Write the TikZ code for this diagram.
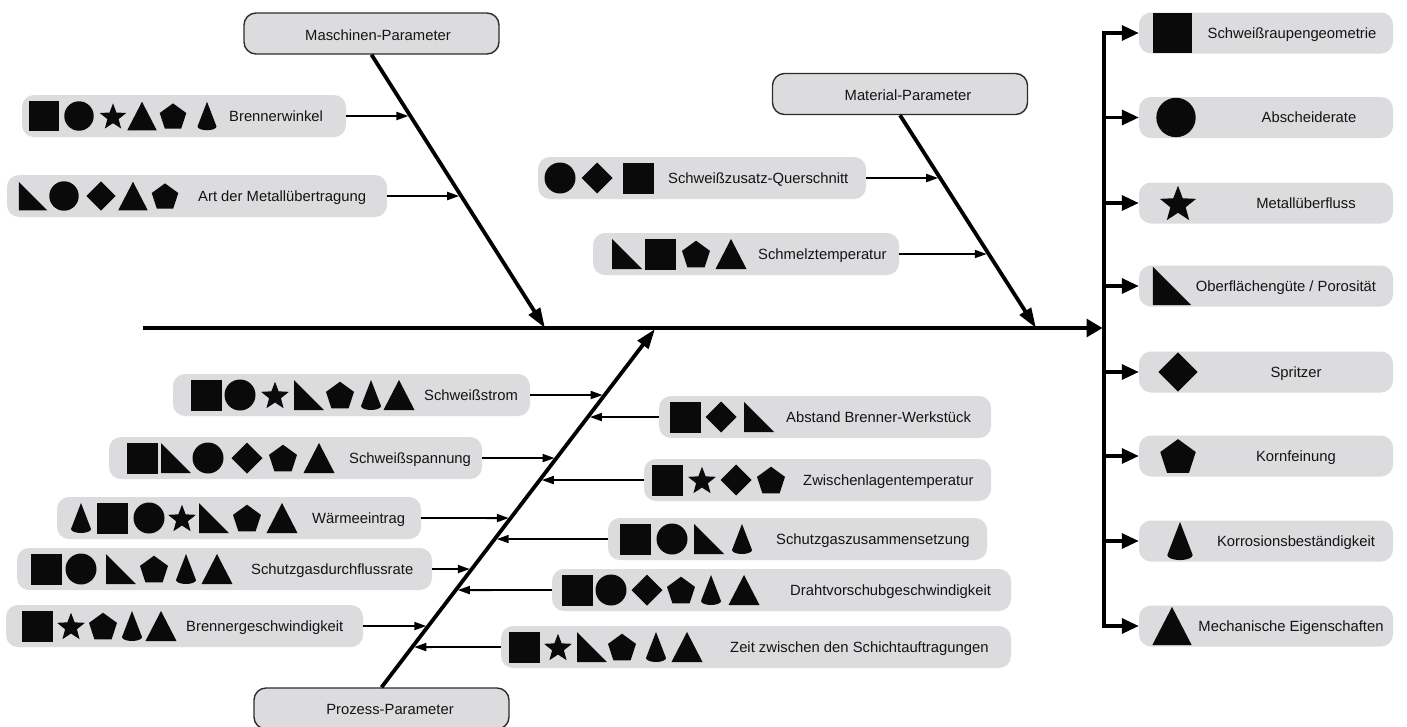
\documentclass[tikz,border=0pt]{standalone}
\usepackage{fontspec}
\setmainfont{Liberation Sans}
\usetikzlibrary{arrows.meta,calc}
\definecolor{boxgray}{RGB}{220,220,222}
\definecolor{catedge}{RGB}{45,45,45}
\definecolor{txtc}{RGB}{20,20,20}
\definecolor{symc}{RGB}{10,10,10}
\newcommand\symrow[3]{\foreach \s/\x in {#3}{\edef\symtmp{\noexpand\pic[scale=#1] at (\x,#2) {\s};}\symtmp}}
\tikzset{
  fbox/.style={fill=boxgray, rounded corners=12pt, inner sep=0pt, minimum height=42pt},
  catbx/.style={fill=boxgray, draw=catedge, line width=1.4pt, rounded corners=12pt, minimum width=255pt, minimum height=41pt, inner sep=0pt},
  lbl/.style={text=txtc, font=\fontsize{14.8}{17}\selectfont, inner sep=0pt, text height=10pt, text depth=0pt},
  bonearrow/.style={line width=3.8pt, -{Triangle[length=20pt,width=13pt]}},
  spinearrow/.style={line width=3.2pt, shorten >=1.5pt, -{Triangle[length=16pt,width=18pt]}},
  feedarrow/.style={line width=1.9pt, shorten >=2pt, -{Triangle[length=12pt,width=8pt]}},
  brancharrow/.style={line width=3.2pt, -{Triangle[length=17pt,width=15pt]}},
  barline/.style={line width=3.2pt, line cap=rect},
  symsq/.pic={\fill[symc] (-15.5,-15.5) rectangle (15.5,15.5);},
  symci/.pic={\fill[symc] (0,0) circle[radius=15.5];},
  symst/.pic={\fill[symc,shift={(0,1.35)}] (-90:14.6) \foreach \i in {0,...,4}{ -- ({-54+72*\i}:6.2) -- ({-18+72*\i}:14.6)} -- cycle;},
  sympe/.pic={\fill[symc,shift={(0,1.4)}] (-90:14.7) -- (-18:14.7) -- (54:14.7) -- (126:14.7) -- (198:14.7) -- cycle;},
  symtr/.pic={\fill[symc] (0,-15) -- (15.5,15) -- (-15.5,15) -- cycle;},
  symrt/.pic={\fill[symc] (-15,-15) -- (15,15) -- (-15,15) -- cycle;},
  symdi/.pic={\fill[symc] (0,-15.5) -- (15.5,0) -- (0,15.5) -- (-15.5,0) -- cycle;},
  symco/.pic={\fill[symc] (0,-15) -- (-10,11) arc[start angle=180,end angle=0,x radius=10,y radius=4] -- cycle;}
}
\begin{document}
\begin{tikzpicture}[x=1pt,y=-1pt]
\fill[white] (0,0) rectangle (1407,726);
\useasboundingbox (0,0) rectangle (1407,726);

% coordinates on the spine
\coordinate (s0) at (143,328);
\coordinate (j1) at (545,328);
\coordinate (j2) at (1036,328);
\coordinate (j3) at (655,329);
\coordinate (vm) at (1104,328);

% category boxes
\node[catbx] (mp) at (371.5,33.5) {};
\node[lbl] (mpt) at (378,35) {Maschinen-Parameter};
\node[catbx] (mat) at (900,94) {};
\node[lbl] (matt) at (908,95) {Material-Parameter};
\node[catbx] (pp) at (381.5,708.5) {};
\node[lbl] (ppt) at (390,709) {Prozess-Parameter};

% item boxes, Maschinen
\node[fbox, minimum width=324] (bw) at (184,116) {};
\node[lbl, anchor=west] (bwl) at (229,116) {Brennerwinkel};
\symrow{0.95}{116}{symsq/44, symci/79, symst/113, symtr/142, sympe/173, symco/207}
\node[fbox, minimum width=380] (am) at (197,196) {};
\node[lbl, anchor=west] (aml) at (198,196) {Art der Metallübertragung};
\symrow{0.95}{196}{symrt/33, symci/64, symdi/101, symtr/133, sympe/165}

% item boxes, Material
\node[fbox, minimum width=328] (sq) at (702,178) {};
\node[lbl, anchor=west] (sql) at (668,178) {Schweißzusatz-Querschnitt};
\symrow{1}{178}{symci/560, symdi/597, symsq/638}
\node[fbox, minimum width=306] (st) at (746,254) {};
\node[lbl, anchor=west] (stl) at (758,254) {Schmelztemperatur};
\symrow{1}{254}{symrt/627, symsq/660, sympe/696, symtr/731}

% item boxes, Prozess left
\node[fbox, minimum width=357] (ss) at (351.5,395) {};
\node[lbl, anchor=west] (ssl) at (424,395) {Schweißstrom};
\symrow{1}{395}{symsq/206, symci/240, symst/275, symrt/309, sympe/340, symco/371, symtr/399}
\node[fbox, minimum width=373] (sp) at (295.5,458) {};
\node[lbl, anchor=west] (spl) at (349,458) {Schweißspannung};
\symrow{1}{458}{symsq/142, symrt/176, symci/208, symdi/247, sympe/283, symtr/319}
\node[fbox, minimum width=364] (we) at (239,518) {};
\node[lbl, anchor=west] (wel) at (312,518) {Wärmeeintrag};
\symrow{1}{518}{symco/81, symsq/112, symci/149, symst/182, symrt/214, sympe/247, symtr/282}
\node[fbox, minimum width=415] (sd) at (224.5,569) {};
\node[lbl, anchor=west] (sdl) at (251,569) {Schutzgasdurchflussrate};
\symrow{1}{569}{symsq/46, symci/81, symrt/121, sympe/154, symco/186, symtr/217}
\node[fbox, minimum width=357] (bg) at (184.5,626) {};
\node[lbl, anchor=west] (bgl) at (186,626) {Brennergeschwindigkeit};
\symrow{1}{626}{symsq/37, symst/71, sympe/103, symco/132, symtr/161}

% item boxes, Prozess right
\node[fbox, minimum width=332] (ab) at (825,417) {};
\node[lbl, anchor=west] (abl) at (786,417) {Abstand Brenner-Werkstück};
\symrow{1}{417}{symsq/685, symdi/721, symrt/759}
\node[fbox, minimum width=347] (zl) at (817.5,480) {};
\node[lbl, anchor=west] (zll) at (803,480) {Zwischenlagentemperatur};
\symrow{1}{480}{symsq/667, symst/702, symdi/736, sympe/771}
\node[fbox, minimum width=379] (sz) at (797.5,539) {};
\node[lbl, anchor=west] (szl) at (776,539) {Schutzgaszusammensetzung};
\symrow{1}{539}{symsq/635, symci/672, symrt/709, symco/742}
\node[fbox, minimum width=459] (dv) at (781.5,590) {};
\node[lbl, anchor=west] (dvl) at (790,590) {Drahtvorschubgeschwindigkeit};
\symrow{1}{590}{symsq/577, symci/611, symdi/647, sympe/681, symco/711, symtr/744}
\node[fbox, minimum width=510] (zz) at (756,647) {};
\node[lbl, anchor=west] (zzl) at (730,647) {Zeit zwischen den Schichtauftragungen};
\symrow{1}{647}{symsq/524, symst/558, symrt/592, sympe/622, symco/656, symtr/687}

% right column
\node[fbox, minimum width=254, minimum height=41] (r1) at (1266,33) {};
\node[lbl] (r1l) at (1292,33) {Schweißraupengeometrie};
\node[fbox, minimum width=254, minimum height=41] (r2) at (1266,117.5) {};
\node[lbl] (r2l) at (1309,117.5) {Abscheiderate};
\node[fbox, minimum width=254, minimum height=41] (r3) at (1266,203) {};
\node[lbl] (r3l) at (1306,203) {Metallüberfluss};
\node[fbox, minimum width=254, minimum height=41] (r4) at (1266,286) {};
\node[lbl] (r4l) at (1286,286) {Oberflächengüte / Porosität};
\node[fbox, minimum width=254, minimum height=41] (r5) at (1266,372) {};
\node[lbl] (r5l) at (1296,372) {Spritzer};
\node[fbox, minimum width=254, minimum height=41] (r6) at (1266,456) {};
\node[lbl] (r6l) at (1296,456) {Kornfeinung};
\node[fbox, minimum width=254, minimum height=41] (r7) at (1266,541) {};
\node[lbl] (r7l) at (1296,541) {Korrosionsbeständigkeit};
\node[fbox, minimum width=254, minimum height=41] (r8) at (1266,626) {};
\node[lbl] (r8l) at (1291,626) {Mechanische Eigenschaften};
\symrow{1.27}{33}{symsq/1172.5}
\symrow{1.27}{117.5}{symci/1176}
\symrow{1.3}{203}{symst/1178}
\symrow{1.27}{286}{symrt/1172}
\symrow{1.27}{372}{symdi/1178}
\symrow{1.27}{456}{sympe/1178}
\symrow{1.27}{541}{symco/1180}
\symrow{1.27}{626}{symtr/1172}

% spine and bones
\draw[spinearrow] (s0) -- (vm);
\draw[bonearrow] (mp.south) -- (j1);
\draw[bonearrow] (mat.south) -- (j2);
\draw[bonearrow] (pp.north) -- (j3);

% right bar and branches
\draw[barline] (r1.west -| vm) -- (r8.west -| vm);
\foreach \r in {r1,r2,r3,r4,r5,r6,r7,r8}{\draw[brancharrow] (\r.west -| vm) -- (\r.west);}

% feed arrows
\draw[feedarrow] (bw.east) -- (intersection of mp.south--j1 and bw.west--bw.east);
\draw[feedarrow] (am.east) -- (intersection of mp.south--j1 and am.west--am.east);
\draw[feedarrow] (sq.east) -- (intersection of mat.south--j2 and sq.west--sq.east);
\draw[feedarrow] (st.east) -- (intersection of mat.south--j2 and st.west--st.east);
\draw[feedarrow] (ss.east) -- (intersection of pp.north--j3 and ss.west--ss.east);
\draw[feedarrow] (sp.east) -- (intersection of pp.north--j3 and sp.west--sp.east);
\draw[feedarrow] (we.east) -- (intersection of pp.north--j3 and we.west--we.east);
\draw[feedarrow] (sd.east) -- (intersection of pp.north--j3 and sd.west--sd.east);
\draw[feedarrow] (bg.east) -- (intersection of pp.north--j3 and bg.west--bg.east);
\draw[feedarrow] (ab.west) -- (intersection of pp.north--j3 and ab.west--ab.east);
\draw[feedarrow] (zl.west) -- (intersection of pp.north--j3 and zl.west--zl.east);
\draw[feedarrow] (sz.west) -- (intersection of pp.north--j3 and sz.west--sz.east);
\draw[feedarrow] (dv.west) -- (intersection of pp.north--j3 and dv.west--dv.east);
\draw[feedarrow] (zz.west) -- (intersection of pp.north--j3 and zz.west--zz.east);
\end{tikzpicture}
\end{document}
